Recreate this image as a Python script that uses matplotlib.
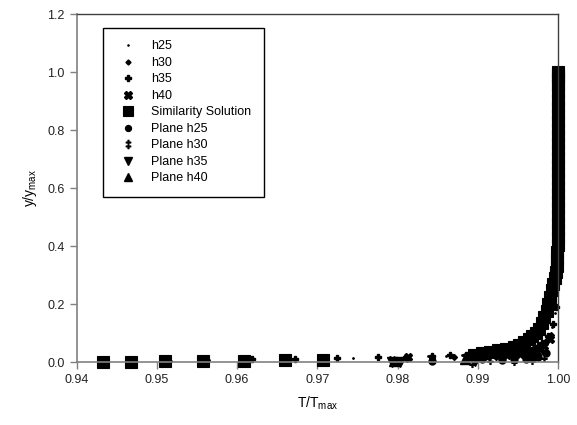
import matplotlib
matplotlib.use('Agg')
import matplotlib.pyplot as plt

plt.rcParams['font.family'] = ['Liberation Sans', 'DejaVu Sans']
plt.rcParams['mathtext.default'] = 'regular'

# similarity solution (T/Tmax, y/ymax)
sim_x = [0.9433, 0.9468, 0.9510, 0.9557, 0.9608, 0.9660, 0.9707,
         0.9895, 0.9905, 0.9915, 0.9925, 0.9935, 0.9945, 0.9952, 0.9958,
         0.9964, 0.9968, 0.9972, 0.9976, 0.9980, 0.9983, 0.9986, 0.99875,
         0.9990, 0.9992, 0.9994, 0.9996, 0.9997, 0.99985, 0.99988,
         0.99992, 0.99995, 0.99997, 0.99999, 1.0, 1.0, 1.0, 1.0, 1.0, 1.0,
         1.0, 1.0, 1.0, 1.0, 1.0, 1.0, 1.0, 1.0, 1.0, 1.0, 1.0, 1.0, 1.0,
         1.0, 1.0, 1.0, 1.0]
sim_y = [0.001, 0.002, 0.003, 0.004, 0.005, 0.006, 0.007,
         0.025, 0.030, 0.035, 0.040, 0.045, 0.052, 0.060, 0.068,
         0.078, 0.090, 0.100, 0.115, 0.135, 0.155, 0.175, 0.200,
         0.225, 0.250, 0.270, 0.290, 0.310, 0.330, 0.355,
         0.380, 0.405, 0.430, 0.455, 0.480, 0.505, 0.530, 0.555, 0.580,
         0.605, 0.630, 0.655, 0.680, 0.705, 0.730, 0.755, 0.780, 0.805,
         0.830, 0.855, 0.880, 0.905, 0.930, 0.955, 0.975, 0.990, 1.000]

h25_x = [0.9745, 0.9790, 0.9815, 0.9838, 0.9860, 0.9880, 0.9900, 0.9920,
         0.9940, 0.9955, 0.9968, 0.9978, 0.9986, 0.9992, 0.9996]
h25_y = [0.015, 0.018, 0.014, 0.020, 0.022, 0.024, 0.026, 0.029,
         0.033, 0.040, 0.050, 0.065, 0.085, 0.120, 0.170]

h30_x = [0.9515, 0.9562, 0.9812, 0.9843, 0.9870, 0.9895, 0.9905, 0.9915,
         0.9925, 0.9935, 0.9945, 0.9952, 0.9960, 0.9965, 0.9970, 0.9976,
         0.9985, 0.9991]
h30_y = [0.004, 0.006, 0.012, 0.015, 0.019, 0.022, 0.024, 0.025,
         0.027, 0.029, 0.032, 0.034, 0.038, 0.042, 0.047, 0.055, 0.072,
         0.095]

h35_x = [0.9618, 0.9672, 0.9725, 0.9775, 0.9810, 0.9843, 0.9866, 0.9885,
         0.9900, 0.9910, 0.9920, 0.9930, 0.9940, 0.9950, 0.9957, 0.9964,
         0.9970, 0.9975, 0.9980, 0.9988, 0.9994, 0.9997]
h35_y = [0.010, 0.011, 0.013, 0.016, 0.019, 0.021, 0.024, 0.026,
         0.025, 0.026, 0.027, 0.029, 0.031, 0.034, 0.037, 0.042,
         0.048, 0.056, 0.066, 0.090, 0.130, 0.190]

h40_x = [0.9813, 0.9888, 0.9900, 0.9912, 0.9925, 0.9937, 0.9945, 0.9953,
         0.9960, 0.9966, 0.9972, 0.9977, 0.9982, 0.9990]
h40_y = [0.016, 0.022, 0.020, 0.021, 0.022, 0.024, 0.026, 0.028,
         0.031, 0.034, 0.039, 0.045, 0.055, 0.080]

p25_x = [0.9843, 0.9905, 0.9930, 0.9945, 0.9960, 0.9968, 0.9975, 0.9985]
p25_y = [0.003, 0.012, 0.008, 0.010, 0.011, 0.014, 0.018, 0.030]

p30_x = [0.9893, 0.9915, 0.9945, 0.9968, 0.9982]
p30_y = [0.002, 0.012, 0.006, 0.012, 0.022]

p35_x = [0.9793, 0.9803, 0.9897]
p35_y = [0.001, 0.002, 0.003]

p40_x = [0.9796, 0.9884]
p40_y = [0.003, 0.012]

fig = plt.figure(figsize=(5.77, 4.25), dpi=100)
ax = fig.add_axes([0.133, 0.148, 0.834, 0.819])

kw = dict(ls='none', color='black', clip_on=False)
ax.plot(h25_x, h25_y, marker='.', ms=2, label='h25', **kw)
ax.plot(h30_x, h30_y, marker='D', ms=3, label='h30', **kw)
ax.plot(h35_x, h35_y, marker='P', ms=5, label='h35', **kw)
ax.plot(h40_x, h40_y, marker='X', ms=6, label='h40', **kw)
ax.plot(sim_x, sim_y, marker='s', ms=8, mew=0.8, label='Similarity Solution', **kw)
ax.plot(p25_x, p25_y, marker='o', ms=5, label='Plane h25', **kw)
ax.plot(p30_x, p30_y, marker='$\u2021$', ms=7, label='Plane h30', **kw)
ax.plot(p35_x, p35_y, marker='v', ms=7, label='Plane h35', **kw)
ax.plot(p40_x, p40_y, marker='^', ms=7, label='Plane h40', **kw)

ax.set_xlim(0.94, 1.0)
ax.set_ylim(0.0, 1.2)
ax.set_xticks([0.94, 0.95, 0.96, 0.97, 0.98, 0.99, 1.00])
ax.set_xticklabels(['%.2f' % v for v in ax.get_xticks()])
ax.set_yticks([0.0, 0.2, 0.4, 0.6, 0.8, 1.0, 1.2])
ax.set_yticklabels(['%.1f' % v for v in ax.get_yticks()])
ax.tick_params(direction='out', length=5, width=1, color='#808080',
               labelsize=9, labelcolor='#222222')

for side in ['left', 'bottom']:
    ax.spines[side].set_color('#808080')
    ax.spines[side].set_linewidth(1.2)
for side in ['top', 'right']:
    ax.spines[side].set_color('#404040')
    ax.spines[side].set_linewidth(1.0)

ax.set_xlabel('T/T$_{max}$', fontsize=10, labelpad=6)
ax.set_ylabel('y/y$_{max}$', fontsize=10, labelpad=6)

leg = ax.legend(loc='upper left', bbox_to_anchor=(0.054, 0.96), borderaxespad=0,
                fontsize=9, numpoints=1, labelspacing=0.36, borderpad=1.0,
                handlelength=2.0, handletextpad=0.9, fancybox=False,
                framealpha=1, edgecolor='black', markerscale=0.85)
leg.get_frame().set_linewidth(1.0)
leg.set_zorder(5)

fig.savefig('out.png', dpi=100)
